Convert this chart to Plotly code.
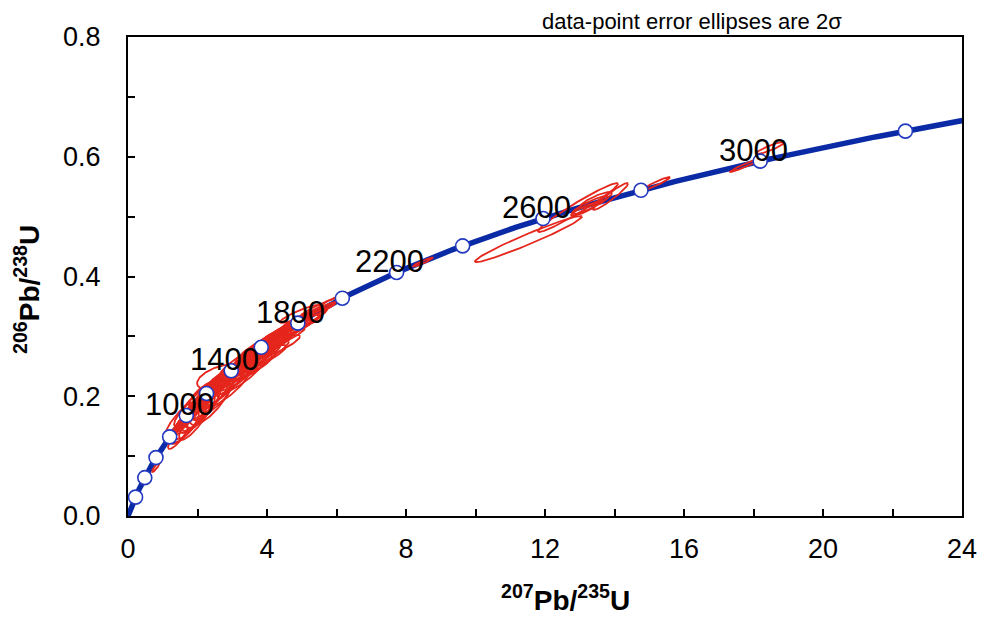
import numpy as np
import plotly.graph_objects as go

# Uranium decay constants (1/yr)
LAMBDA_238 = 1.55125e-10
LAMBDA_235 = 9.8485e-10

# Concordia age marks (Ma) and the ones that carry a text label
mark_ages = [200, 400, 600, 800, 1000, 1200, 1400, 1600, 1800, 2000,
             2200, 2400, 2600, 2800, 3000, 3200]
label_ages = [1000, 1400, 1800, 2200, 2600, 3000]
curve_end_age = 3270

# Zircon analyses: 207Pb/235U, 206Pb/238U, 2-sigma half-widths, error correlation
r75 = [0.806, 1.439, 1.640, 1.813, 1.986, 2.158, 2.331, 2.504, 2.650, 2.734,
       2.964, 3.194, 3.396, 3.597, 3.770, 3.942, 4.115, 4.317, 4.547, 4.777,
       5.036, 5.324, 5.612, 5.928, 3.453, 3.856, 4.259, 2.216, 4.950,
       1.554, 1.755, 1.899, 2.101, 2.273, 2.446, 2.619, 2.820, 3.050, 3.252,
       3.482, 3.683, 3.885, 4.086, 4.374, 4.662, 4.892, 5.151,
       3.050, 3.396, 3.741, 4.086, 4.460, 1.928, 2.360,
       1.496, 1.784, 2.072, 2.417, 1.727, 2.072, 2.417, 2.820, 3.223, 3.626,
       4.000, 3.223, 3.655, 4.230, 4.719, 2.791,
       8.489, 11.525, 12.950, 13.295, 13.468, 13.151, 13.885, 15.209,
       17.784, 18.475]
r68 = [0.0818, 0.1319, 0.1470, 0.1587, 0.1720, 0.1837, 0.1954, 0.2071, 0.2322, 0.2171,
       0.2288, 0.2388, 0.2505, 0.2605, 0.2722, 0.2823, 0.2906, 0.2990, 0.3073, 0.3157,
       0.3273, 0.3390, 0.3507, 0.3608, 0.2472, 0.2639, 0.2823, 0.2021, 0.3374,
       0.1537, 0.1670, 0.1787, 0.1904, 0.2004, 0.2121, 0.2205, 0.2305, 0.2422, 0.2505,
       0.2605, 0.2689, 0.2772, 0.2873, 0.2973, 0.3090, 0.3173, 0.3273,
       0.2338, 0.2505, 0.2656, 0.2839, 0.2973, 0.1603, 0.1887,
       0.1637, 0.1804, 0.1971, 0.2138, 0.1520, 0.1720, 0.1904, 0.2104, 0.2305, 0.2505,
       0.2706, 0.2572, 0.2772, 0.3006, 0.3173, 0.2338,
       0.4242, 0.4626, 0.5152, 0.5194, 0.5278, 0.5127, 0.5336, 0.5553,
       0.5862, 0.6146]
err75 = [0.115, 0.288, 0.403, 0.460, 0.518, 0.518, 0.576, 0.633, 0.662, 0.633,
         0.691, 0.691, 0.633, 0.691, 0.748, 0.748, 0.748, 0.748, 0.748, 0.748,
         0.691, 0.633, 0.633, 0.403, 0.691, 0.691, 0.691, 0.460, 0.576,
         0.345, 0.403, 0.460, 0.518, 0.518, 0.518, 0.576, 0.576, 0.633, 0.633,
         0.633, 0.633, 0.633, 0.633, 0.633, 0.633, 0.633, 0.576,
         0.633, 0.633, 0.633, 0.633, 0.633, 0.460, 0.576,
         0.403, 0.460, 0.518, 0.518, 0.460, 0.518, 0.576, 0.633, 0.633, 0.633,
         0.633, 0.576, 0.576, 0.576, 0.576, 0.518,
         0.288, 1.540, 1.151, 0.518, 0.460, 0.403, 0.504, 0.388,
         0.460, 0.403]
err68 = [0.0084, 0.0200, 0.0267, 0.0301, 0.0334, 0.0367, 0.0334, 0.0334, 0.0209, 0.0334,
         0.0301, 0.0301, 0.0267, 0.0267, 0.0267, 0.0267, 0.0234, 0.0234, 0.0200, 0.0200,
         0.0200, 0.0167, 0.0167, 0.0117, 0.0234, 0.0217, 0.0200, 0.0234, 0.0150,
         0.0234, 0.0267, 0.0301, 0.0301, 0.0301, 0.0301, 0.0301, 0.0284, 0.0284, 0.0267,
         0.0251, 0.0251, 0.0234, 0.0234, 0.0217, 0.0200, 0.0200, 0.0184,
         0.0234, 0.0217, 0.0200, 0.0200, 0.0184, 0.0334, 0.0367,
         0.0267, 0.0301, 0.0301, 0.0301, 0.0301, 0.0301, 0.0301, 0.0301, 0.0267, 0.0251,
         0.0234, 0.0234, 0.0234, 0.0200, 0.0184, 0.0234,
         0.0075, 0.0384, 0.0409, 0.0150, 0.0134, 0.0117, 0.0225, 0.0109,
         0.0117, 0.0100]
rho = [0.90, 0.85, 0.85, 0.85, 0.80, 0.80, 0.85, 0.85, 0.50, 0.85,
       0.85, 0.85, 0.85, 0.90, 0.90, 0.90, 0.90, 0.90, 0.90, 0.90,
       0.90, 0.95, 0.95, 0.95, 0.88, 0.88, 0.88, 0.70, 0.90,
       0.90, 0.90, 0.90, 0.90, 0.90, 0.90, 0.90, 0.90, 0.90, 0.90,
       0.90, 0.90, 0.90, 0.92, 0.92, 0.92, 0.92, 0.93,
       0.88, 0.88, 0.88, 0.88, 0.90, 0.85, 0.80,
       0.90, 0.90, 0.90, 0.90, 0.88, 0.88, 0.88, 0.88, 0.90, 0.90,
       0.90, 0.90, 0.90, 0.92, 0.92, 0.90,
       0.95, 0.97, 0.97, 0.90, 0.85, 0.90, 0.95, 0.95,
       0.97, 0.90]


def concordia(age_ma):
    t = np.asarray(age_ma, dtype=float) * 1e6
    return np.exp(LAMBDA_235 * t) - 1.0, np.exp(LAMBDA_238 * t) - 1.0


# Concordia curve
curve_x, curve_y = concordia(np.linspace(0, curve_end_age, 500))
mark_x, mark_y = concordia(mark_ages)
lab_x, lab_y = concordia(label_ages)

# Error ellipse outlines, joined into a single trace with gaps
theta = np.linspace(0, 2 * np.pi, 120)
ell_x, ell_y = [], []
for cx, cy, ex, ey, r in zip(r75, r68, err75, err68, rho):
    ell_x.extend(cx + ex * np.cos(theta))
    ell_y.extend(cy + ey * (r * np.cos(theta) + np.sqrt(1 - r * r) * np.sin(theta)))
    ell_x.append(None)
    ell_y.append(None)

BLUE = "#0B2BA6"
RED = "#E5261C"
FONT = "Liberation Sans, Arial, Helvetica, sans-serif"

fig = go.Figure()
fig.add_trace(go.Scatter(x=curve_x, y=curve_y, mode="lines",
                         line=dict(color=BLUE, width=5.5), hoverinfo="skip"))
fig.add_trace(go.Scatter(x=ell_x, y=ell_y, mode="lines",
                         line=dict(color=RED, width=1.8), hoverinfo="skip"))
fig.add_trace(go.Scatter(x=mark_x, y=mark_y, mode="markers",
                         marker=dict(size=14, color="white",
                                     line=dict(color="#2238C0", width=1.6)),
                         hoverinfo="skip"))

for a, x, y in zip(label_ages, lab_x, lab_y):
    fig.add_annotation(x=x, y=y, text=str(a), showarrow=False,
                       xshift=-7, yshift=11,
                       font=dict(family=FONT, size=31, color="black"))

fig.add_annotation(xref="paper", yref="paper", x=0.676, y=1.0334,
                   xanchor="center", yanchor="middle",
                   text="data-point error ellipses are 2\u03c3", showarrow=False,
                   font=dict(family=FONT, size=22, color="black"))
fig.add_annotation(xref="paper", yref="paper", x=0.524, y=-0.171,
                   xanchor="center", yanchor="middle",
                   text="<b><sup>207</sup>Pb/<sup>235</sup>U</b>", showarrow=False,
                   font=dict(family=FONT, size=28, color="black"))
fig.add_annotation(xref="paper", yref="paper", x=-0.121, y=0.472,
                   xanchor="center", yanchor="middle",
                   text="<b><sup>206</sup>Pb/<sup>238</sup>U</b>", showarrow=False,
                   textangle=-90,
                   font=dict(family=FONT, size=28, color="black"))

axis_common = dict(showline=True, linecolor="black", linewidth=2, mirror=True,
                   ticks="inside", ticklen=7, tickwidth=1.5, tickcolor="black",
                   showgrid=False, zeroline=False, automargin=False,
                   tickfont=dict(family=FONT, size=27, color="black"))

fig.update_xaxes(range=[0, 24], dtick=4, tick0=0, ticklabelstandoff=8,
                 minor=dict(dtick=2, ticks="inside", ticklen=7, tickwidth=1.5,
                            tickcolor="black"),
                 **axis_common)
fig.update_yaxes(range=[0, 0.8], dtick=0.2, tick0=0, tickformat=".1f",
                 ticklabelstandoff=20,
                 minor=dict(dtick=0.1, ticks="inside", ticklen=7, tickwidth=1.5,
                            tickcolor="black"),
                 **axis_common)

fig.update_layout(width=982, height=617, showlegend=False,
                  margin=dict(l=128, r=20, t=37, b=101, autoexpand=False),
                  plot_bgcolor="white", paper_bgcolor="white")

fig.write_html("out.html")
